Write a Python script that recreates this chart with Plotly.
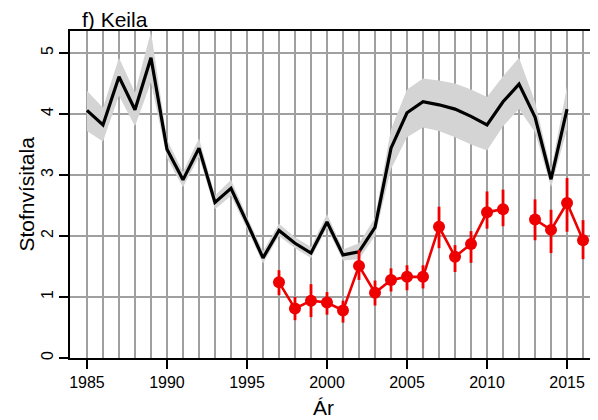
import plotly.graph_objects as go

# black index series with confidence band
years = list(range(1985, 2016))
index = [4.06, 3.82, 4.61, 4.07, 4.92, 3.42, 2.92, 3.44, 2.55, 2.78,
         2.22, 1.64, 2.09, 1.88, 1.72, 2.23, 1.69, 1.74, 2.14, 3.44,
         4.02, 4.20, 4.15, 4.08, 3.96, 3.82, 4.20, 4.49, 3.95, 2.93, 4.08]
index_lo = [3.72, 3.55, 4.30, 3.80, 4.52, 3.28, 2.80, 3.30, 2.44, 2.66,
            2.12, 1.55, 2.00, 1.80, 1.64, 2.13, 1.60, 1.62, 2.00, 3.10,
            3.62, 3.78, 3.72, 3.62, 3.50, 3.40, 3.80, 4.08, 3.70, 2.80, 3.75]
index_hi = [4.38, 4.10, 4.92, 4.35, 5.35, 3.58, 3.05, 3.60, 2.66, 2.92,
            2.32, 1.75, 2.20, 1.98, 1.82, 2.36, 1.78, 1.88, 2.30, 3.75,
            4.40, 4.58, 4.55, 4.50, 4.40, 4.28, 4.62, 4.92, 4.20, 3.08, 4.45]

# red survey series with error bars (2012 missing)
red_years = list(range(1997, 2017))
red = [1.24, 0.81, 0.94, 0.91, 0.78, 1.51, 1.07, 1.28, 1.33, 1.33,
       2.15, 1.66, 1.87, 2.39, 2.44, None, 2.27, 2.10, 2.54, 1.93]
red_lo = [1.03, 0.62, 0.67, 0.71, 0.58, 1.28, 0.86, 1.09, 1.11, 1.14,
          1.80, 1.41, 1.56, 2.12, 2.16, None, 1.93, 1.72, 2.07, 1.62]
red_hi = [1.44, 1.00, 1.21, 1.08, 0.94, 1.77, 1.27, 1.47, 1.52, 1.52,
          2.48, 1.85, 2.08, 2.73, 2.76, None, 2.60, 2.43, 2.95, 2.26]

err_plus = [None if v is None else h - v for v, h in zip(red, red_hi)]
err_minus = [None if v is None else v - l for v, l in zip(red, red_lo)]

FONT = "Liberation Sans, Arial, sans-serif"
GRID = "#a0a0a0"

fig = go.Figure()

fig.add_trace(go.Scatter(
    x=years + years[::-1], y=index_hi + index_lo[::-1],
    fill="toself", fillcolor="#d4d4d4", line=dict(width=0),
    mode="lines", hoverinfo="skip", showlegend=False
))
fig.add_trace(go.Scatter(
    x=years, y=index, mode="lines",
    line=dict(color="black", width=3.2), showlegend=False
))
fig.add_trace(go.Scatter(
    x=red_years, y=red, mode="lines+markers",
    line=dict(color="#ee0000", width=2.6),
    marker=dict(color="#ee0000", size=12),
    error_y=dict(type="data", array=err_plus, arrayminus=err_minus,
                 color="#ee0000", thickness=2.8, width=0),
    connectgaps=False, cliponaxis=False, showlegend=False
))

fig.add_annotation(
    text="f) Keila", xref="paper", yref="paper", x=0.019, y=1,
    xanchor="left", yanchor="bottom", yshift=-2, showarrow=False,
    font=dict(family=FONT, size=21, color="black")
)
fig.add_annotation(
    text="Ár", xref="paper", yref="paper", x=0.485, y=0,
    xanchor="center", yanchor="top", yshift=-36, showarrow=False,
    font=dict(family=FONT, size=21, color="black")
)
fig.add_annotation(
    text="Stofnvísitala", xref="paper", yref="paper", x=0, y=0.5,
    xanchor="center", yanchor="middle", xshift=-44, textangle=-90,
    showarrow=False, font=dict(family=FONT, size=21, color="black")
)

fig.update_xaxes(
    range=[1983.94, 2016.56], tickmode="linear", tick0=1985, dtick=5,
    ticks="outside", ticklen=9, tickwidth=1.5, tickcolor="black",
    showgrid=True, gridcolor=GRID, gridwidth=2,
    minor=dict(dtick=1, tick0=1985, showgrid=True, gridcolor=GRID, gridwidth=2),
    showline=True, mirror=True, linecolor="black", linewidth=2,
    zeroline=False, automargin=False,
    tickfont=dict(family=FONT, size=16, color="black")
)
fig.update_yaxes(
    range=[0, 5.36], tickmode="linear", tick0=0, dtick=1,
    ticks="outside", ticklen=9, tickwidth=1.5, tickcolor="black",
    tickangle=-90,
    showgrid=True, gridcolor=GRID, gridwidth=2,
    showline=True, mirror=True, linecolor="black", linewidth=2,
    zeroline=False, automargin=False,
    tickfont=dict(family=FONT, size=16, color="black")
)

# the page body adds an 8px offset, so the figure is sized to fit the window
fig.update_layout(
    width=590, height=412,
    margin=dict(l=62, r=6, t=23, b=62),
    plot_bgcolor="white", paper_bgcolor="white",
    font=dict(family=FONT)
)

fig.write_html("out.html")
